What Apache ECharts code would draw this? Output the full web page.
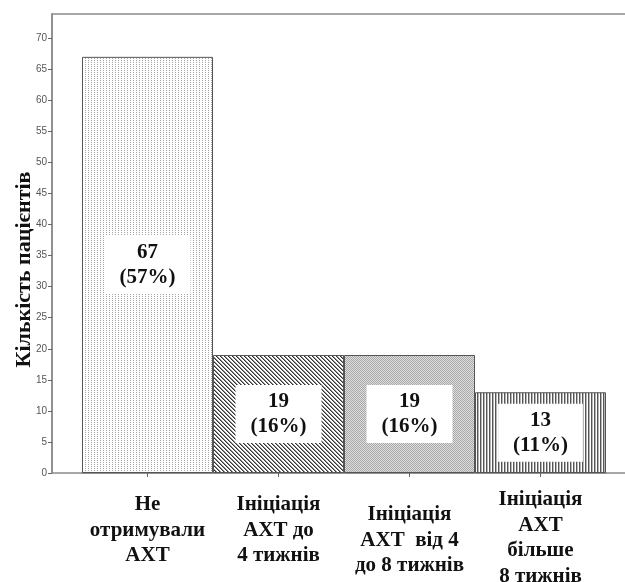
<!DOCTYPE html>
<html>
<head>
<meta charset="utf-8">
<script src="https://cdn.jsdelivr.net/npm/echarts@6/dist/echarts.min.js"></script>
<style>html,body{margin:0;padding:0;background:#fff;}#c{width:625px;height:582px;}</style>
</head>
<body>
<div id="c"></div>
<script>
const categories = ['Не\nотримували\nАХТ', 'Ініціація\nАХТ до\n4 тижнів', 'Ініціація\nАХТ  від 4\nдо 8 тижнів', 'Ініціація\nАХТ\nбільше\n8 тижнів'];
const counts = [67, 19, 19, 13];
const percents = [57, 16, 16, 11];
const yTicks = [0, 5, 10, 15, 20, 25, 30, 35, 40, 45, 50, 55, 60, 65, 70];
const yName = 'Кількість пацієнтів';

function pat(w, h, px) {
  const c = document.createElement('canvas');
  c.width = w; c.height = h;
  const g = c.getContext('2d');
  g.fillStyle = '#fff'; g.fillRect(0, 0, w, h);
  px.forEach(p => { g.fillStyle = p[2]; g.fillRect(p[0], p[1], 1, 1); });
  return { image: c, repeat: 'repeat' };
}
const patterns = [
  pat(3, 2, [[1, 0, '#a5a5a5']]),
  pat(4, 4, [[0,0,'#333'],[1,1,'#333'],[2,2,'#333'],[3,3,'#333'],[1,0,'#8f8f8f'],[2,1,'#8f8f8f'],[3,2,'#8f8f8f'],[0,3,'#8f8f8f']]),
  pat(2, 2, [[0,0,'#a8a8a8'],[1,1,'#a8a8a8'],[1,0,'#dedede'],[0,1,'#dedede']]),
  pat(3, 1, [[0,0,'#555'],[1,0,'#b5b5b5']])
];
const labelPad = [[5,0,0,0],[5,0,0,0],[15,0,0,0],[0,0,0,0]];

const chart = echarts.init(document.getElementById('c'), null, { renderer: 'canvas' });
chart.setOption({
  animation: false,
  grid: [
    { left: 82, right: 19, top: 14, bottom: 109, show: false, outerBoundsMode: 'none', containLabel: false },
    { left: 52, width: 640, top: 14, bottom: 109, show: true, borderColor: '#8a8a8a', borderWidth: 1.5, backgroundColor: 'transparent', outerBoundsMode: 'none', containLabel: false }
  ],
  xAxis: [
    {
      gridIndex: 0, type: 'category',
      data: categories.map((c, i) => ({ value: c, textStyle: { padding: labelPad[i] } })),
      axisLine: { show: true, lineStyle: { color: '#8a8a8a', width: 1.5 } },
      axisTick: { show: true, alignWithLabel: true, length: 4, lineStyle: { color: '#666' } },
      axisLabel: {
        interval: 0, margin: 14,
        fontFamily: 'Liberation Serif', fontWeight: 'bold', fontSize: 21, lineHeight: 25.5, color: '#111', align: 'center'
      }
    },
    { gridIndex: 1, type: 'value', show: false, min: 0, max: 1 }
  ],
  yAxis: [
    { gridIndex: 0, type: 'value', min: 0, max: 73.9, show: false },
    {
      gridIndex: 1, type: 'value', min: 0, max: 73.9,
      name: yName, nameLocation: 'middle', nameRotate: 90, nameGap: 17, nameMoveOverlap: false,
      nameTextStyle: { fontFamily: 'Liberation Serif', fontWeight: 'bold', fontSize: 22, color: '#111', padding: [0, 52, 0, 0] },
      axisLine: { show: true, lineStyle: { color: '#8a8a8a', width: 1.5 } },
      axisTick: { show: true, length: 4, customValues: yTicks, lineStyle: { color: '#666' } },
      axisLabel: { customValues: yTicks, margin: 5, fontFamily: 'Liberation Sans', fontSize: 10, color: '#555' },
      splitLine: { show: false }
    }
  ],
  series: [{
    type: 'bar', xAxisIndex: 0, yAxisIndex: 0,
    barCategoryGap: 0,
    data: counts.map((v, i) => ({ value: v, itemStyle: { color: patterns[i] } })),
    itemStyle: { borderColor: '#555', borderWidth: 1 },
    label: {
      show: true, position: 'inside',
      formatter: p => p.value + '\n(' + percents[p.dataIndex] + '%)',
      fontFamily: 'Liberation Serif', fontWeight: 'bold', fontSize: 21, lineHeight: 25, color: '#111',
      backgroundColor: '#fff', padding: [4, 15]
    }
  }]
});
</script>
</body>
</html>
